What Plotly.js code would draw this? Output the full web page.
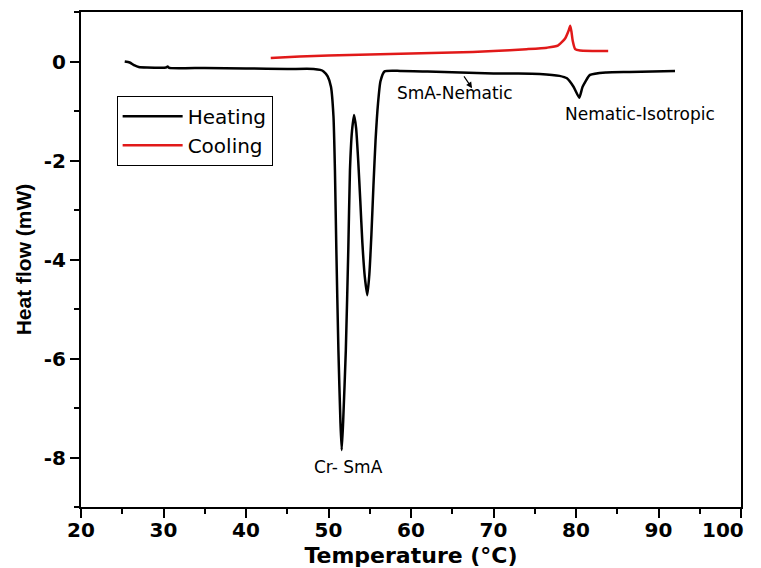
<!DOCTYPE html>
<html>
<head>
<meta charset="utf-8">
<script src="https://cdn.plot.ly/plotly-3.0.1.min.js"></script>
<style>html,body{margin:0;padding:0;background:#fff;}#chart{width:761px;height:568px;}</style>
</head>
<body>
<div id="chart"></div>
<script>
// Heating curve (Temperature °C, Heat flow mW)
var heatT = [25.3,25.9,26.5,27.0,28.0,30.3,30.5,30.7,35.0,40.0,45.0,48.2,49.0,49.4,49.9,50.3,50.6,50.78,50.95,51.2,51.45,51.6,51.77,52.1,52.4,52.6,52.85,53.1,53.35,53.6,53.85,54.1,54.4,54.7,54.95,55.2,55.45,55.7,56.0,56.3,56.8,58.7,62.0,66.0,70.0,73.0,75.6,78.0,78.9,79.7,80.4,80.8,81.7,83.7,86.5,92.0];
var heatV = [0.0,-0.02,-0.08,-0.11,-0.12,-0.12,-0.10,-0.13,-0.13,-0.14,-0.15,-0.15,-0.17,-0.2,-0.3,-0.51,-1.1,-2.2,-3.8,-5.83,-7.3,-7.85,-7.3,-5.83,-3.8,-2.2,-1.4,-1.08,-1.35,-2.0,-2.8,-3.65,-4.35,-4.72,-4.3,-3.5,-2.5,-1.6,-0.85,-0.4,-0.2,-0.19,-0.2,-0.22,-0.24,-0.24,-0.25,-0.29,-0.34,-0.51,-0.73,-0.51,-0.27,-0.22,-0.21,-0.19];
// Cooling curve
var coolT = [43.0,46.5,50.0,55.0,60.0,65.0,70.0,74.0,76.5,77.8,78.7,79.1,79.3,79.45,79.6,79.9,80.5,83.9];
var coolV = [0.07,0.10,0.12,0.14,0.16,0.18,0.21,0.25,0.28,0.32,0.47,0.62,0.72,0.6,0.42,0.25,0.22,0.21];
var seriesNames = ["Heating","Cooling"];
var labels = ["Cr- SmA","SmA-Nematic","Nematic-Isotropic"];
var xTickVals = [20,30,40,50,60,70,80,90,100];
var xTickLabels = ["20","30","40","50","60","70","80","90","100"];
var yTickVals = [0,-2,-4,-6,-8];
var yTickText = ["0","-2","-4","-6","-8"];

// the last x label sits at the right edge; it is drawn as right-aligned text so it stays inside the page
var lastIdx = xTickLabels.length - 1;
var xTickText = xTickLabels.slice(0, lastIdx).concat([""]);

var traces = [
  {x: heatT, y: heatV, name: seriesNames[0], mode: 'lines', line: {color: '#000000', width: 2.5, shape: 'spline', smoothing: 0.5}},
  {x: coolT, y: coolV, name: seriesNames[1], mode: 'lines', line: {color: 'rgb(225,25,25)', width: 2.5, shape: 'spline', smoothing: 0.5}}
];

var annFont = {family: 'DejaVu Sans', size: 17, color: '#000'};
var tickFont = {family: 'DejaVu Sans', size: 20, color: '#000', weight: 'bold'};
var layout = {
  width: 761, height: 568,
  margin: {l: 81, r: 20, t: 12, b: 61},
  paper_bgcolor: '#fff', plot_bgcolor: '#fff',
  showlegend: true,
  legend: {x: 0.054, y: 0.831, xanchor: 'left', yanchor: 'top', bordercolor: '#000', borderwidth: 1,
           itemwidth: 60, tracegroupgap: 0,
           bgcolor: 'rgba(255,255,255,0)', font: {family: 'DejaVu Sans', size: 20, color: '#000'}},
  xaxis: {
    range: [20, 100], tickmode: 'array', tickvals: xTickVals, ticktext: xTickText,
    ticklabelstandoff: -5,
    showgrid: false, zeroline: false,
    showline: true, linecolor: '#000', linewidth: 2, mirror: true,
    ticks: 'outside', ticklen: 9, tickwidth: 2, tickcolor: '#000',
    minor: {dtick: 5, tick0: 20, ticks: 'outside', ticklen: 5, tickwidth: 2, tickcolor: '#000', showgrid: false},
    tickfont: tickFont,
    title: {text: 'Temperature (°C)', standoff: 10, font: {family: 'DejaVu Sans', size: 22, color: '#000', weight: 'bold'}}
  },
  yaxis: {
    range: [-9, 1], tickmode: 'array', tickvals: yTickVals, ticktext: yTickText,
    showgrid: false, zeroline: false,
    showline: true, linecolor: '#000', linewidth: 2, mirror: true,
    ticks: 'outside', ticklen: 9, tickwidth: 2, tickcolor: '#000',
    minor: {dtick: 1, tick0: 0, ticks: 'outside', ticklen: 5, tickwidth: 2, tickcolor: '#000', showgrid: false},
    tickfont: tickFont,
    title: {text: 'Heat flow (mW)', standoff: 6, font: {family: 'Liberation Sans', size: 21, color: '#000', weight: 'bold'}}
  },
  annotations: [
    {x: 52.4, y: -8.19, xref: 'x', yref: 'y', text: labels[0], showarrow: false, font: annFont},
    {x: 65.3, y: -0.64, xref: 'x', yref: 'y', text: labels[1], showarrow: false, font: annFont},
    {x: 87.8, y: -1.06, xref: 'x', yref: 'y', text: labels[2], showarrow: false, font: annFont},
    {x: 67.4, y: -0.54, ax: 66.3, ay: -0.27, xref: 'x', yref: 'y', axref: 'x', ayref: 'y', text: '', showarrow: true, arrowhead: 2, arrowsize: 1, arrowwidth: 1.2, arrowcolor: '#000'},
    {x: xTickVals[lastIdx], y: 0, xref: 'x', yref: 'paper', xanchor: 'right', yanchor: 'top', xshift: 5, yshift: -9,
     text: xTickLabels[lastIdx], showarrow: false, font: tickFont}
  ]
};
Plotly.newPlot('chart', traces, layout, {displayModeBar: false, staticPlot: true});
</script>
</body>
</html>
